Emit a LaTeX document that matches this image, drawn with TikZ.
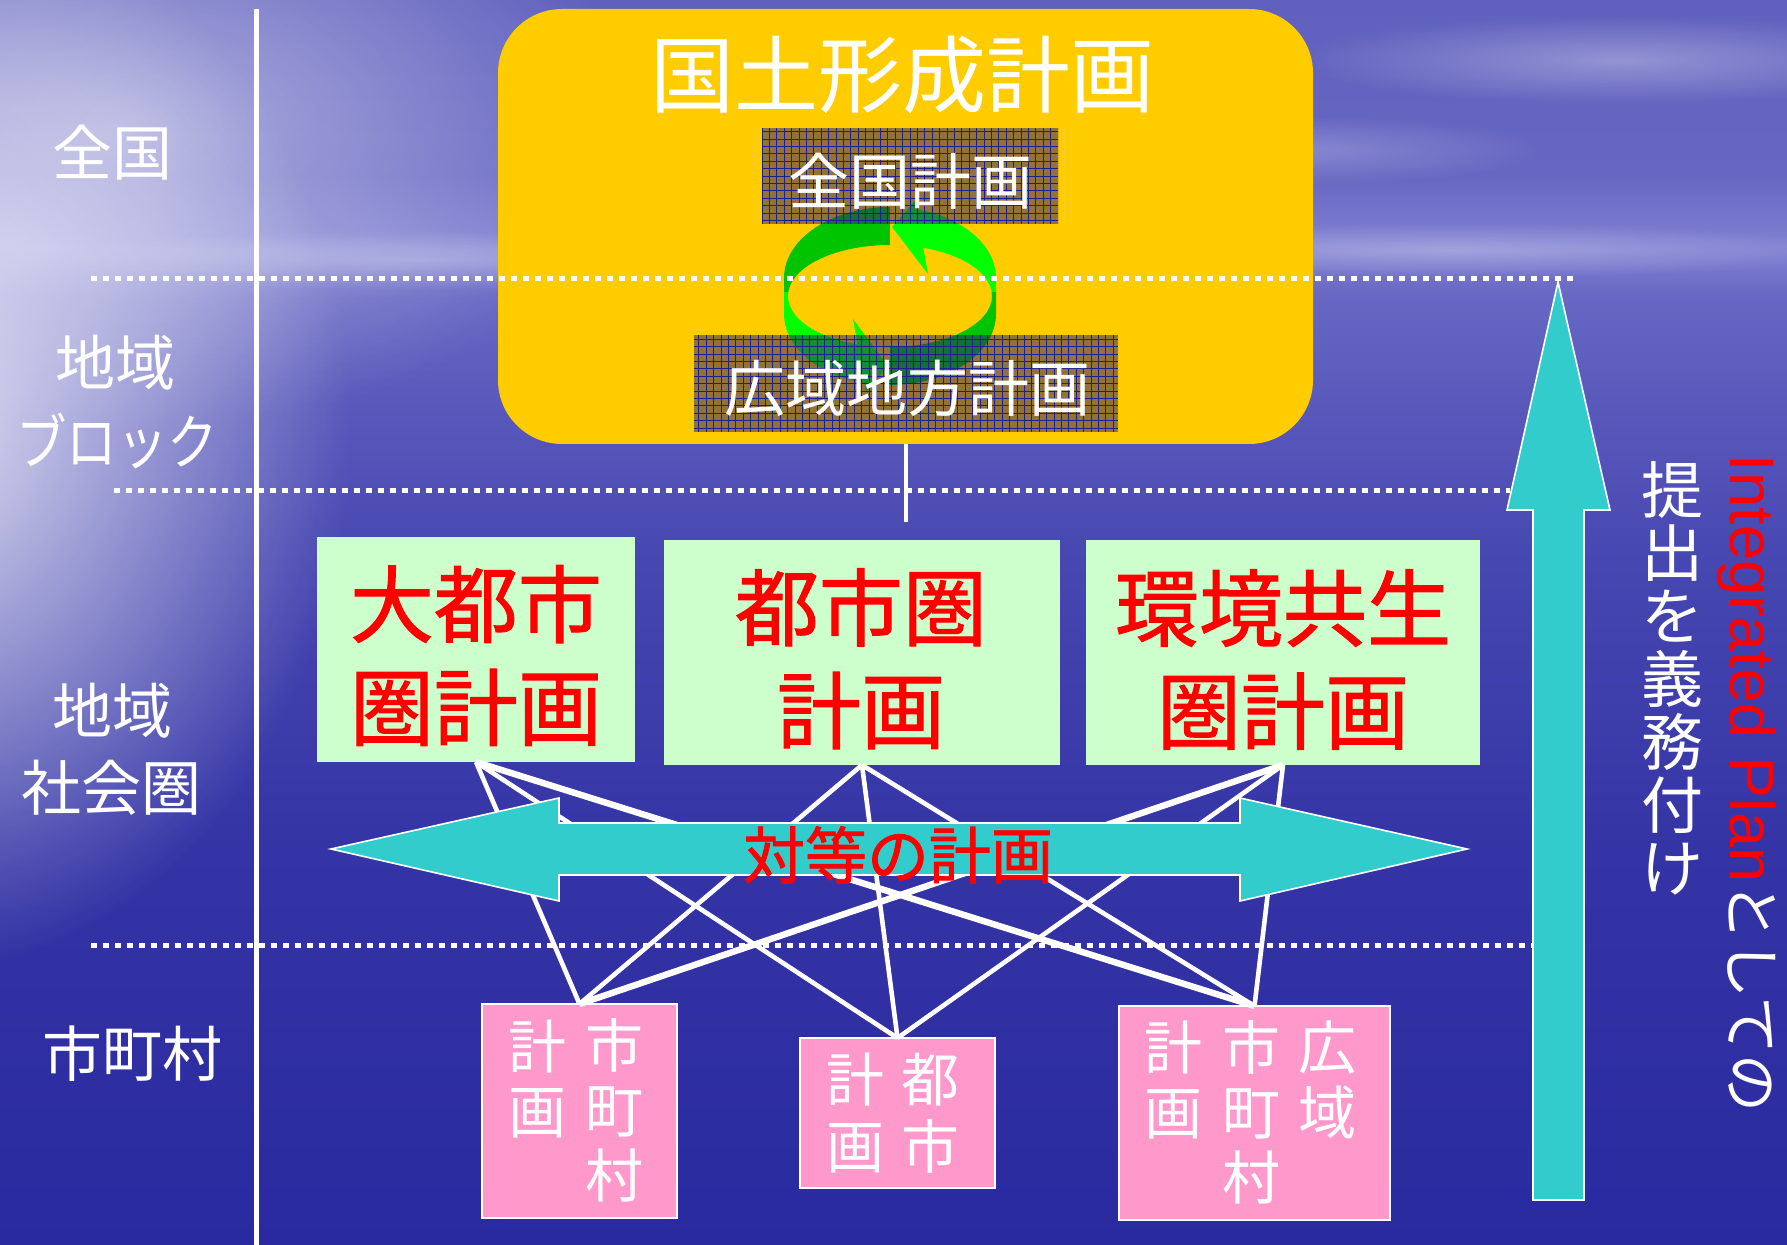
\documentclass[tikz,border=0pt]{standalone}
\usepackage{fontspec}
\setmainfont{Noto Sans CJK JP}
\newfontfamily\lsans{Liberation Sans}
\newfontfamily\cjkb[FakeBold=1.3]{Noto Sans CJK JP}
\usetikzlibrary{fadings}
\definecolor{yboxc}{RGB}{255,204,0}
\definecolor{gboxc}{RGB}{204,255,204}
\definecolor{pboxc}{RGB}{255,153,204}
\definecolor{cyanA}{RGB}{51,204,204}
\definecolor{gdark}{RGB}{0,196,0}
\definecolor{gbright}{RGB}{0,255,0}
\definecolor{patbrown}{RGB}{45,33,110}
\definecolor{gridblue}{RGB}{30,30,140}
\definecolor{bgA}{RGB}{96,96,190}
\definecolor{bgH}{RGB}{128,128,210}
\definecolor{bgB}{RGB}{102,102,195}
\definecolor{bgC}{RGB}{72,72,178}
\definecolor{bgD}{RGB}{52,52,166}
\definecolor{bgE}{RGB}{42,42,160}
\pgfdeclareverticalshading{bgshade}{100bp}{color(0bp)=(bgE); color(25bp)=(bgE); color(41bp)=(bgD); color(53bp)=(bgC); color(63bp)=(bgB); color(65bp)=(bgH); color(68bp)=(bgB); color(75bp)=(bgA); color(100bp)=(bgA)}
\tikzfading[name=softglow, inner color=transparent!10, outer color=transparent!100]
\begin{document}
\begin{tikzpicture}[x=0.5pt,y=-0.5pt,
  every node/.style={inner sep=0pt,outer sep=0pt},
  divider/.style={white, line width=2.5pt},
  dotline/.style={white, line width=2.5pt, dash pattern=on 2.8pt off 3.2pt},
  lbl/.style={text=white, font=\fontsize{30pt}{36pt}\selectfont},
  patbox/.style={fill=patbrown, fill opacity=0.52,
    path picture={\draw[gridblue, line width=0.35pt, step=3.7pt] (path picture bounding box.south west) grid (path picture bounding box.north east);}},
  pattxt/.style={text=white, font=\fontsize{30.5pt}{36pt}\selectfont},
  gbox/.style={fill=gboxc},
  redtxt/.style={text=red, align=center, font=\cjkb\fontsize{42pt}{51.5pt}\selectfont},
  pinkbox/.style={fill=pboxc, draw=white, line width=0.8pt},
  pinktxt/.style={text=white, align=center, font=\fontsize{29pt}{32.5pt}\selectfont},
  conn/.style={white, line width=2.3pt},
  connthick/.style={white, line width=3.2pt},
  cyanarrow/.style={fill=cyanA, draw=white, line width=0.8pt, line join=miter},
]
\useasboundingbox (0,0) rectangle (1787,1245);
% background
\shade[shading=bgshade] (0,0) rectangle (1787,1245);
\fill[white, path fading=softglow, fill opacity=0.55] (120,130) ellipse [x radius=520, y radius=300];
\fill[white, path fading=softglow, fill opacity=0.9] (-80,430) ellipse [x radius=430, y radius=540];
\fill[white, path fading=softglow, fill opacity=0.35] (1620,60) ellipse [x radius=330, y radius=45];
\fill[white, path fading=softglow, fill opacity=0.3] (1450,250) ellipse [x radius=420, y radius=28];
\fill[white, path fading=softglow, fill opacity=0.25] (1300,150) ellipse [x radius=250, y radius=35];
\fill[white, path fading=softglow, fill opacity=0.3] (420,260) ellipse [x radius=380, y radius=30];

% left divider
\draw[divider] (256,9) -- (256,1245);

% left labels
\node[lbl] (l1) at (112,153) {全国};
\node[lbl] (l2a) at (115,363) {地域};
\node[lbl] (l2b) at (117,441) {\scalebox{0.84}[1]{ブロック}};
\node[lbl] (l3a) at (112,711) {地域};
\node[lbl] (l3b) at (111,788) {社会圏};
\node[lbl] (l4) at (132,1054) {市町村};

% yellow box
\node[fill=yboxc, rounded corners=32pt, minimum width=407.5pt, minimum height=217.5pt] (ybox) at (905.5,226.5) {};
\node[text=white, font=\fontsize{42pt}{48pt}\selectfont] (ttl) at (902,75) {国土形成計画};

% circular arrows
\begin{scope}[even odd rule]
\clip (996,278) arc[start angle=0, end angle=-180, x radius=106, y radius=71] -- (784,314) arc[start angle=180, end angle=0, x radius=106, y radius=71] -- cycle (890,296) ellipse [x radius=102, y radius=51];
\fill[gdark] (770,190) rectangle (890,292);
\fill[gbright] (914,190) rectangle (1010,292);
\fill[gdark] (890,292) rectangle (1010,400);
\fill[gbright] (770,292) rectangle (866,400);
\end{scope}
\fill[gbright] (892,227) -- (915,201) -- (928,274) -- cycle;
\fill[gbright] (888,366) -- (853,319) -- (866,392) -- cycle;

% pattern boxes
\node[patbox, minimum width=148pt, minimum height=48pt] (zk) at (910,176) {};
\node[pattxt] (zkt) at (910,181) {全国計画};
\node[patbox, minimum width=212pt, minimum height=48.5pt] (kc) at (906,383.5) {};
\node[pattxt] (kct) at (907,388.5) {広域地方計画};

% dotted level lines
\draw[dotline] (91,279) -- (1573,279);
\draw[dotline] (114,491) -- (1510,491);
\draw[dotline] (91,945) -- (1533,945);

% connector from national plan
\coordinate (cend) at (906,522);
\draw[white, line width=2pt] (ybox.south -| cend) -- (cend);

% green boxes
\node[gbox, minimum width=159pt, minimum height=112.5pt] (g1) at (476,649.5) {};
\node[gbox, minimum width=198pt, minimum height=112.5pt] (g2) at (862,652.5) {};
\node[gbox, minimum width=197pt, minimum height=112.5pt] (g3) at (1283,652.5) {};
\node[redtxt] (g1t) at (476,655.5) {大都市\\圏計画};
\node[redtxt] (g2t) at (861,658.7) {都市圏\\計画};
\node[redtxt] (g3t) at (1283,659.5) {環境共生\\圏計画};

% pink boxes
\node[pinkbox, minimum width=97.5pt, minimum height=107pt] (p1) at (579.5,1111) {};
\node[pinkbox, minimum width=97.5pt, minimum height=75pt] (p2) at (897.5,1113) {};
\node[pinkbox, minimum width=135.5pt, minimum height=107pt] (p3) at (1254.5,1113) {};

% network lines
\draw[conn] (g1.south) -- (p1.north);
\draw[conn] (g1.south) -- (p2.north);
\draw[connthick] (g1.south) -- (p3.north);
\draw[conn] (g2.south) -- (p1.north);
\draw[conn] (g2.south) -- (p2.north);
\draw[conn] (g2.south) -- (p3.north);
\draw[connthick] (g3.south) -- (p1.north);
\draw[conn] (g3.south) -- (p2.north);
\draw[conn] (g3.south) -- (p3.north);

% pink box texts
\node[pinktxt] (p1a) at (614,1110) {市\\町\\村};
\node[pinktxt] (p1b) at (537,1079.5) {計\\画};
\node[pinktxt, font=\fontsize{29pt}{33.5pt}\selectfont] (p2a) at (930,1113.5) {都\\市};
\node[pinktxt, font=\fontsize{29pt}{33.5pt}\selectfont] (p2b) at (855,1113.5) {計\\画};
\node[pinktxt] (p3a) at (1327,1080) {広\\域};
\node[pinktxt] (p3b) at (1251,1112) {市\\町\\村};
\node[pinktxt] (p3c) at (1173,1080) {計\\画};

% horizontal double arrow
\draw[cyanarrow] (331,849) -- (559,798) -- (559,823) -- (1240,823) -- (1240,798) -- (1467,849) -- (1240,901) -- (1240,875) -- (559,875) -- (559,901) -- cycle;
\node[text=red, font=\cjkb\fontsize{31pt}{36pt}\selectfont] (eq) at (898,855) {対等の計画};

% vertical arrow
\draw[cyanarrow] (1558,282) -- (1610,510) -- (1584,510) -- (1584,1200) -- (1533,1200) -- (1533,510) -- (1507,510) -- cycle;

% right texts
\node[text=white, align=center, font=\fontsize{31pt}{31.5pt}\selectfont] (oblig) at (1672,678.5) {提\\出\\を\\義\\務\\付\\け};
\node[rotate=-90, anchor=base west, text=red, font=\lsans\fontsize{31.5pt}{36pt}\selectfont] (integ) at (1730,455) {Integrated Plan};
\node[rotate=-90, anchor=base west, text=white, font=\fontsize{29pt}{36pt}\selectfont] (integ2) at (integ.base east) {としての};
\end{tikzpicture}
\end{document}
